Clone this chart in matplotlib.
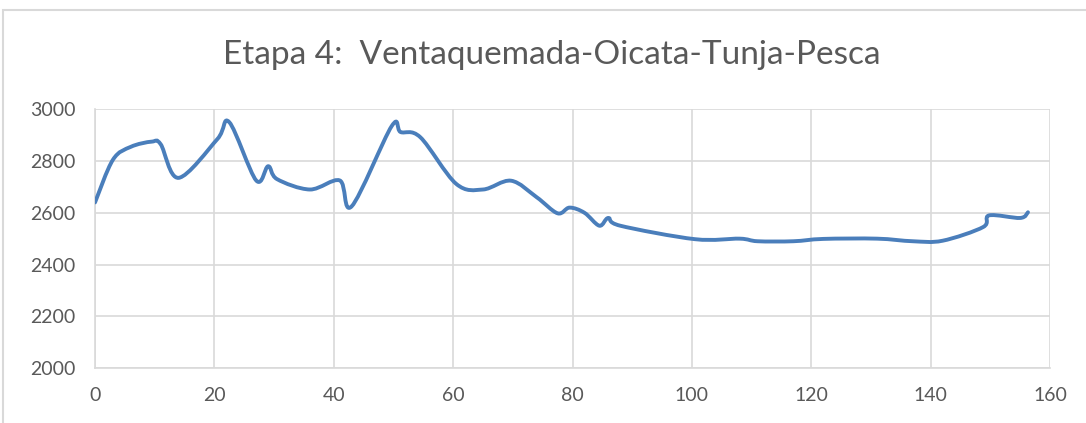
import matplotlib.pyplot as plt
from matplotlib.path import Path
from matplotlib.patches import PathPatch, Rectangle

# distancia [km] y altitud [m]
distancia = [0, 3, 6, 9.5, 11, 14, 20.5, 22.5, 27, 29, 30.5, 36, 41, 43,
             49.7, 51.2, 54.5, 60.5, 65, 69.7, 74, 77.5, 79.5, 82, 84.5, 86, 88,
             100.5, 108, 111, 117, 122, 131, 137, 142, 148.8, 149.8, 155, 156.3]
altitud = [2640, 2805, 2855, 2875, 2865, 2735, 2885, 2950, 2725, 2780, 2730, 2690, 2725, 2625,
           2935, 2912, 2892, 2712, 2690, 2724, 2660, 2598, 2620, 2600, 2550, 2580, 2550,
           2498, 2500, 2490, 2490, 2499, 2500, 2490, 2492, 2545, 2590, 2580, 2602]

titulo = 'Etapa 4:  Ventaquemada-Oicata-Tunja-Pesca'
xticks = list(range(0, 161, 20))
yticks = list(range(2000, 3001, 200))

plt.rcParams['font.family'] = ['Lato', 'DejaVu Sans']

fig = plt.figure(figsize=(10.86, 4.23), dpi=100)
ax = fig.add_axes([0.0875, 0.130, 0.8794, 0.6116])

# linea suavizada tipo Excel (bezier a partir de catmull-rom)
verts = [(distancia[0], altitud[0])]
codes = [Path.MOVETO]
n = len(distancia)
for i in range(n - 1):
    x0, y0 = (distancia[i - 1], altitud[i - 1]) if i > 0 else (distancia[i], altitud[i])
    x1, y1 = distancia[i], altitud[i]
    x2, y2 = distancia[i + 1], altitud[i + 1]
    x3, y3 = (distancia[i + 2], altitud[i + 2]) if i + 2 < n else (x2, y2)
    c1 = (x1 + (x2 - x0) / 6, y1 + (y2 - y0) / 6)
    c2 = (x2 - (x3 - x1) / 6, y2 - (y3 - y1) / 6)
    verts += [c1, c2, (x2, y2)]
    codes += [Path.CURVE4] * 3
ax.add_patch(PathPatch(Path(verts, codes), fill=False, edgecolor='#4A7EBB',
                       linewidth=2.8, capstyle='round', joinstyle='round', zorder=3))

ax.set_xlim(0, 160)
ax.set_ylim(2000, 3000)
ax.set_xticks(xticks)
ax.set_yticks(yticks)
ax.grid(True, color='#D9D9D9', linewidth=1.2)
ax.set_axisbelow(True)
for s in ax.spines.values():
    s.set_color('#D9D9D9')
    s.set_linewidth(1.2)
ax.spines['top'].set_visible(False)
ax.spines['right'].set_visible(False)
ax.tick_params(length=0, labelsize=14, labelcolor='#595959')
ax.tick_params(axis='y', pad=14)
ax.tick_params(axis='x', pad=14)

fig.text(0.508, 0.87, titulo, ha='center', va='center', fontsize=24, color='#595959')

fig.patches.append(Rectangle((3 / 1086, -0.1), 1.2, 1 - 10 / 423 + 0.1,
                             transform=fig.transFigure, fill=False,
                             edgecolor='#D9D9D9', linewidth=1.5))

fig.savefig('out.png', dpi=100)
